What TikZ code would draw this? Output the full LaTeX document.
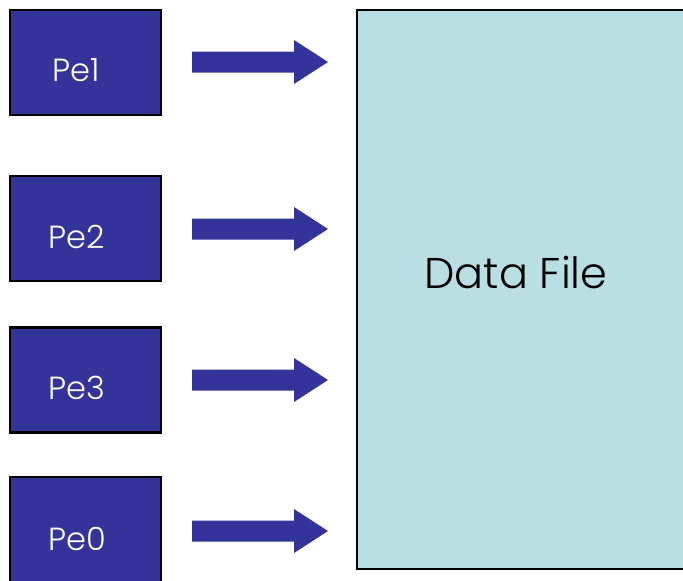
\documentclass[tikz,border=0pt]{standalone}
\usepackage{fontspec}
\setmainfont{Poppins Light}
\usetikzlibrary{calc}
\definecolor{peblue}{HTML}{333399}
\definecolor{datacyan}{HTML}{BADFE2}
\tikzset{
  pebox/.style={draw=black, line width=2.5pt, fill=peblue, inner sep=0pt,
    minimum width=151pt, minimum height=105pt},
  pelabel/.style={text=white, font=\fontsize{32}{32}\selectfont, anchor=base, inner sep=0pt},
  databox/.style={draw=black, line width=2pt, fill=datacyan, inner sep=0pt,
    minimum width=400pt, minimum height=559.5pt},
  datalabel/.style={text=black, font=\fontsize{43}{43}\selectfont, anchor=base, inner sep=0pt},
  blockarrow/.style={fill=peblue, draw=none}
}
\begin{document}
\begin{tikzpicture}[x=1pt,y=-1pt]
\useasboundingbox (0,0) rectangle (683,581);
\clip (0,0) rectangle (683,581);
\fill[white] (0,0) rectangle (683,581);
% boxes
\node[pebox] (pe1) at (85.5,62.5) {};
\node[pebox] (pe2) at (85.5,228.5) {};
\node[pebox] (pe3) at (85.5,380) {};
\node[pebox, minimum height=108pt] (pe0) at (85.5,531) {};
\node[pelabel] (l1) at (76,81) {Pe1};
\node[pelabel] (l2) at (77,248) {Pe2};
\node[pelabel] (l3) at (77,399) {Pe3};
\node[pelabel] (l0) at (77,550) {Pe0};
% data file
\node[databox] (data) at (557,289.25) {};
\node[datalabel] (dl) at (516,288) {Data File};
% arrows
\foreach \yc/\nm in {62/a1, 229/a2, 380/a3, 531/a0}{
  \coordinate (\nm) at (192,\yc);
  \fill[blockarrow] ($(\nm)+(0,-10.5)$) -- ++(102,0) -- ++(0,-11.5) -- ($(\nm)+(136,0)$)
     -- ($(\nm)+(102,22)$) -- ++(0,-11.5) -- ($(\nm)+(0,10.5)$) -- cycle;
}
\end{tikzpicture}
\end{document}
